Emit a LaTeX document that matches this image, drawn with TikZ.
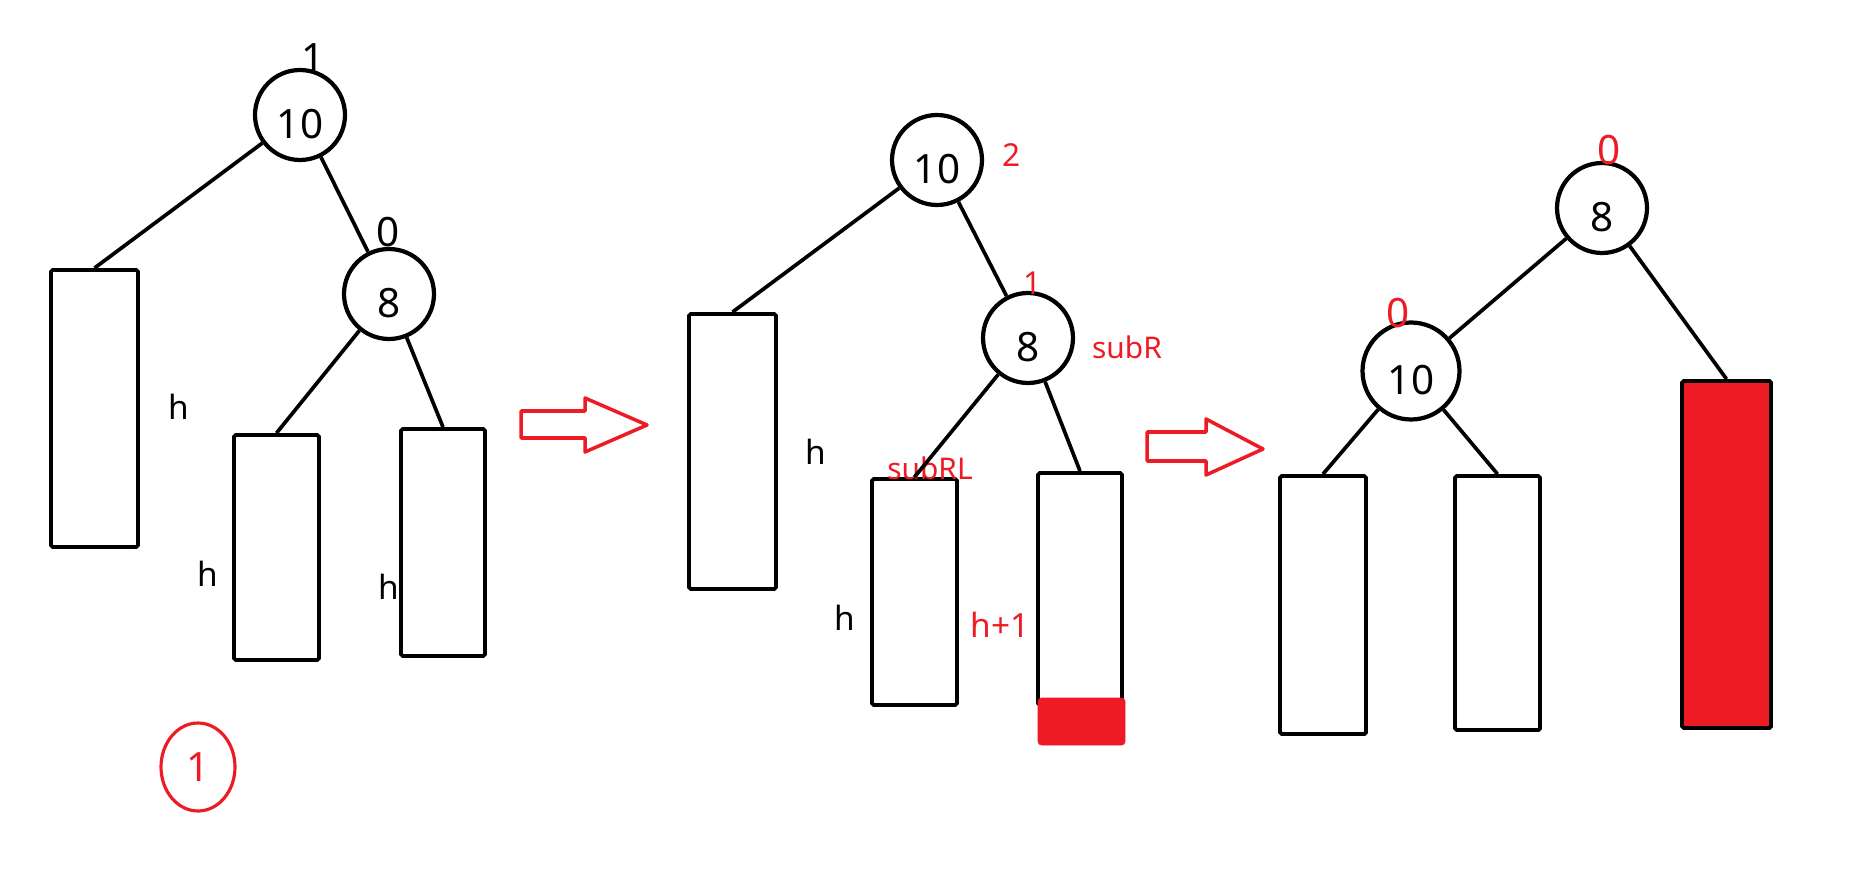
\documentclass[tikz,border=0pt]{standalone}
\usepackage{fontspec}
\setmainfont{Noto Sans}
\usetikzlibrary{shapes.geometric,fit}
\definecolor{pred}{HTML}{ED1C24}

\begin{document}
\begin{tikzpicture}[
  x=0.02cm, y=-0.02cm,
  key/.style={draw, circle, line width=2.4pt, minimum size=1.8cm, inner sep=0pt, text height=0.95cm, text depth=0pt, font=\fontsize{23}{26}\selectfont},
  sub/.style={draw, line width=2.2pt, inner sep=0pt, rounded corners=1pt},
  hot/.style={sub, fill=pred},
  newbit/.style={fill=pred, draw=pred, inner sep=0pt, rounded corners=2pt},
  edge/.style={line width=2.1pt},
  bal/.style={font=\fontsize{23}{26}\selectfont},
  rbal/.style={bal, text=pred},
  hlab/.style={font=\fontsize{19}{22}\selectfont},
  rlab/.style={font=\fontsize{17}{20}\selectfont, text=pred},
  fat/.style={draw=pred, line width=2pt, line join=round}
]
\useasboundingbox (0,0) rectangle (1855,891);

% before insertion
\node[key] (a10) at (300,115) {10};
\node[key] (a8) at (389,294) {8};
\node[bal] (aB10) at (313,58) {1};
\node[bal] (aB8) at (388,232) {0};
\node[sub, fit={(51,270) (138,547)}] (aL) {};
\node[sub, fit={(234,435) (319,660)}] (aRL) {};
\node[sub, fit={(401,429) (485,656)}] (aRR) {};
\node[hlab] (aH1) at (179,407) {h};
\node[hlab] (aH2) at (208,574) {h};
\node[hlab] (aH3) at (389,587) {h};
\draw[edge] (a10) -- (aL.north);
\draw[edge] (a10) -- (a8);
\draw[edge] (a8) -- (aRL.north);
\draw[edge] (a8) -- (aRR.north);
\node[ellipse, draw=pred, line width=1.8pt, minimum width=1.48cm, minimum height=1.76cm,
  text=pred, font=\fontsize{23}{26}\selectfont] (case) at (198,767) {1};

\draw[fat] (521,411) -- (585,411) -- (585,398) -- (647,425) -- (585,452) -- (585,438) -- (521,438) -- cycle;

% after insertion
\node[key] (b10) at (937,160) {10};
\node[key] (b8) at (1028,338) {8};
\node[rbal, font=\fontsize{18}{21}\selectfont] (bB10) at (1012,155) {2};
\node[rbal, font=\fontsize{18}{21}\selectfont] (bB8) at (1033,283) {1};
\node[rlab] (subR) at (1127,347) {subR};
\node[sub, fit={(689,314) (776,589)}] (bL) {};
\node[sub, fit={(872,479) (957,705)}] (bRL) {};
\node[sub, fit={(1038,473) (1122,705)}] (bRR) {};
\node[newbit, fit={(1038,698) (1125,745)}] (bAdd) {};
\node[hlab] (bH1) at (816,452) {h};
\node[hlab] (bH2) at (845,618) {h};
\node[rlab] (subRL) at (930,468) {subRL};
\node[rlab, font=\fontsize{19}{22}\selectfont] (bH3) at (1000,625) {h+1};
\draw[edge] (b10) -- (bL.north);
\draw[edge] (b10) -- (b8);
\draw[edge] (b8) -- (bRL.north);
\draw[edge] (b8) -- (bRR.north);

\draw[fat] (1147,432) -- (1206,432) -- (1206,419) -- (1263,449) -- (1206,475) -- (1206,461) -- (1147,461) -- cycle;

% after left rotation
\node[key] (c8) at (1602,208) {8};
\node[key, minimum size=1.94cm] (c10) at (1411,371) {10};
\node[rbal] (cB8) at (1609,150) {0};
\node[rbal] (cB10) at (1398,313) {0};
\node[sub, fit={(1280,476) (1366,734)}] (cL) {};
\node[sub, fit={(1455,476) (1540,730)}] (cM) {};
\node[hot, fit={(1682,381) (1771,728)}] (cR) {};
\draw[edge] (c8) -- (c10);
\draw[edge] (c8) -- (cR.north);
\draw[edge] (c10) -- (cL.north);
\draw[edge] (c10) -- (cM.north);
\end{tikzpicture}
\end{document}
